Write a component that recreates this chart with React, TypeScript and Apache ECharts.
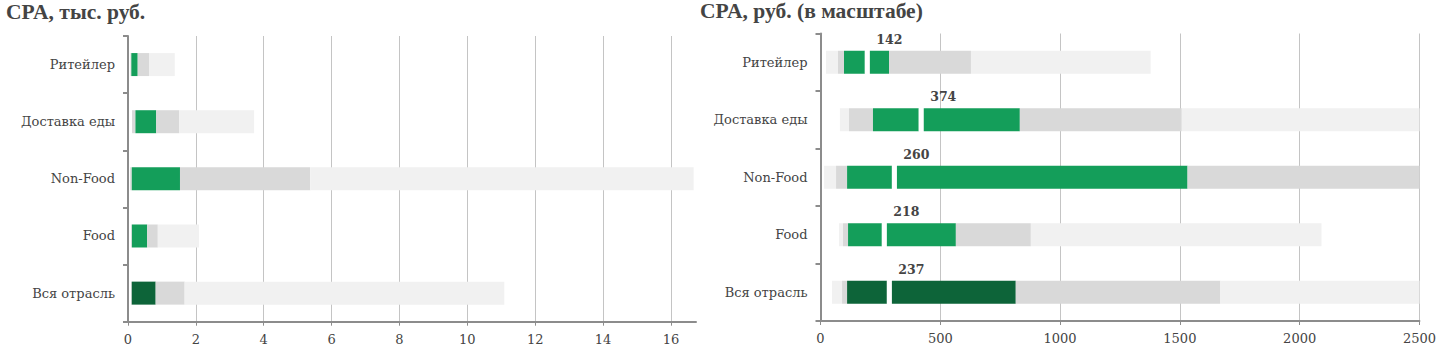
import React, { useEffect, useRef } from 'react';
import * as echarts from 'echarts';

const categories = ['Ритейлер', 'Доставка еды', 'Non-Food', 'Food', 'Вся отрасль'];
const medianLabels = ['142', '374', '260', '218', '237'];
// CPA, руб.
const minV = [23, 81, 15, 77, 48];
const p10 = [73, 119, 65, 94, 90];
const p25 = [98, 219, 111, 115, 111];
const gapLo = [185, 410, 298, 256, 277];
const gapHi = [206, 431, 319, 277, 298];
const p75 = [286, 832, 1532, 565, 815];
const p90 = [628, 1508, 5370, 878, 1669];
const maxV = [1378, 3717, 16670, 2091, 11090];
const greenColors = ['#149e5a', '#149e5a', '#149e5a', '#149e5a', '#0d6439'];
const leftTicks = [0, 2, 4, 6, 8, 10, 12, 14, 16];
const rightTicks = [0, 500, 1000, 1500, 2000, 2500];

const TITLE_FONT = 'Liberation Serif';
const FONT = 'DejaVu Serif';
const TEXT = '#444444';
const AXIS = '#8c8c8c';
const GRID = '#c4c4c4';
const LIGHT = '#f1f1f1';
const GRAY = '#d9d9d9';

const diff = (a: number[], b: number[], k = 1) => a.map((v, i) => (v - b[i]) / k);

function seg(name: string, grid: number, stack: string, data: number[], color: string | string[], extra: any = {}) {
  return {
    type: 'bar',
    name,
    xAxisIndex: grid,
    yAxisIndex: grid,
    stack,
    barWidth: 23,
    silent: true,
    data: data.map((v, i) => ({
      value: v,
      itemStyle: { color: Array.isArray(color) ? color[i] : color },
    })),
    ...extra,
  };
}

export default function App() {
  const ref = useRef<HTMLDivElement>(null);
  useEffect(() => {
    if (!ref.current) return;
    const chart = echarts.init(ref.current, null, { renderer: 'svg' });
    const xAxisBase = (grid: number, max: number, interval: number, ticks: number[], showMax: boolean) => ({
      type: 'value',
      gridIndex: grid,
      min: 0,
      max,
      interval,
      axisLine: { show: true, lineStyle: { color: AXIS, width: 2 } },
      axisTick: { show: true, length: 4, lineStyle: { color: AXIS, width: 1 } },
      splitLine: { show: true, showMaxLine: showMax, lineStyle: { color: GRID, width: 1 } },
      axisLabel: {
        color: TEXT,
        fontFamily: FONT,
        fontSize: 13,
        margin: 11,
        showMaxLabel: showMax,
        formatter: (v: number) => (ticks.includes(v) ? String(v) : ''),
      },
    });
    const yAxisBase = (grid: number) => ({
      type: 'category',
      gridIndex: grid,
      inverse: true,
      data: categories,
      axisLine: { show: true, lineStyle: { color: AXIS, width: 2 } },
      axisTick: { show: true, length: 5, lineStyle: { color: AXIS, width: 2 } },
      axisLabel: { color: TEXT, fontFamily: FONT, fontSize: 13, margin: 13 },
      splitLine: { show: false },
    });
    const k = 1000;
    const option: any = {
      animation: false,
      backgroundColor: '#ffffff',
      title: [
        {
          text: 'CPA, тыс. руб.',
          left: 6,
          top: 1,
          padding: 0,
          textStyle: { fontFamily: TITLE_FONT, fontWeight: 'bold', fontSize: 21.5, color: TEXT },
        },
        {
          text: 'CPA, руб. (в масштабе)',
          left: 700,
          top: 0,
          padding: 0,
          textStyle: { fontFamily: TITLE_FONT, fontWeight: 'bold', fontSize: 21.5, color: TEXT },
        },
      ],
      grid: [
        { left: 128, top: 36, width: 568, bottom: 30.3, containLabel: false },
        { left: 820.5, top: 33.5, right: 18.7, bottom: 31, containLabel: false },
      ],
      xAxis: [xAxisBase(0, 16.74, 2, leftTicks, false), xAxisBase(1, 2500, 500, rightTicks, true)],
      yAxis: [yAxisBase(0), yAxisBase(1)],
      series: [
        seg('base', 0, 'L', p10.map((v) => v / k), 'transparent'),
        seg('p10-p25', 0, 'L', diff(p25, p10, k), GRAY),
        seg('p25-p75', 0, 'L', diff(p75, p25, k), greenColors),
        seg('p75-p90', 0, 'L', diff(p90, p75, k), GRAY),
        seg('p90-max', 0, 'L', diff(maxV, p90, k), LIGHT),

        seg('base', 1, 'R', minV, 'transparent'),
        seg('min-p10', 1, 'R', diff(p10, minV), LIGHT),
        seg('p10-p25', 1, 'R', diff(p25, p10), GRAY),
        seg('p25-med', 1, 'R', diff(gapLo, p25), greenColors),
        seg('median', 1, 'R', diff(gapHi, gapLo), '#ffffff', {
          label: {
            show: true,
            position: 'top',
            distance: 5,
            offset: [22, 0],
            fontFamily: FONT,
            fontWeight: 'bold',
            fontSize: 12.5,
            color: TEXT,
            formatter: (p: any) => medianLabels[p.dataIndex],
          },
        }),
        seg('med-p75', 1, 'R', diff(p75, gapHi), greenColors),
        seg('p75-p90', 1, 'R', diff(p90, p75), GRAY),
        seg('p90-max', 1, 'R', diff(maxV, p90), LIGHT),
      ],
    };
    chart.setOption(option);
    return () => chart.dispose();
  }, []);
  return (
    <div
      ref={ref}
      style={{ position: 'fixed', left: 0, top: 0, width: 1439, height: 352, background: '#fff' }}
    />
  );
}
